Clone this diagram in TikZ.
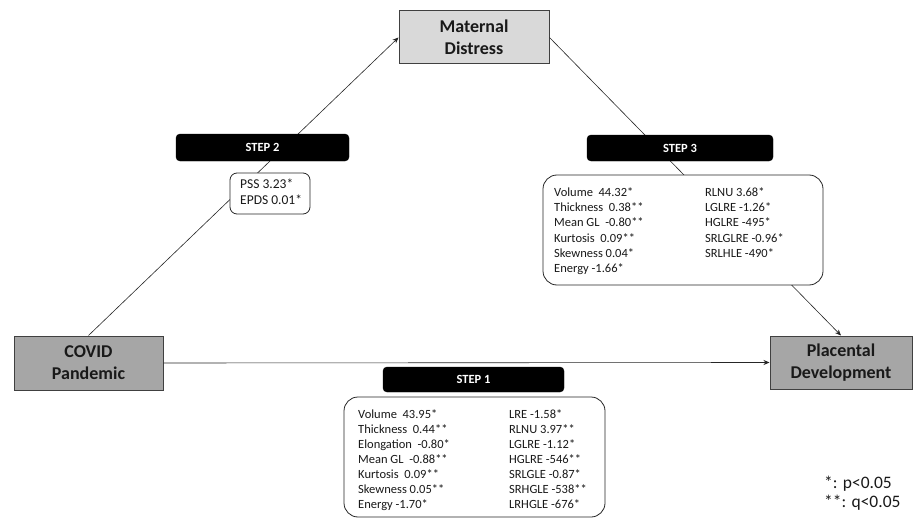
\documentclass[tikz,border=0pt]{standalone}
\usepackage{fontspec}
\setmainfont{Carlito}
\usetikzlibrary{arrows.meta}
\definecolor{lightbox}{HTML}{D9D9D9}
\definecolor{darkbox}{HTML}{A6A6A6}
\definecolor{edgegray}{HTML}{404040}
\tikzset{
  mainbox/.style={draw=edgegray, line width=1pt, rectangle, inner sep=0pt, align=center,
    font=\fontsize{18}{22}\selectfont\bfseries, text=black!90},
  stepbox/.style={fill=black, draw=black, rounded corners=4pt, inner sep=0pt,
    text=white, font=\fontsize{12.5}{14}\selectfont\bfseries},
  databox/.style={draw=black!85, line width=0.8pt, rounded corners=14pt, inner sep=0pt},
  datatext/.style={anchor=north west, inner sep=0pt, align=left,
    font=\fontsize{12.5}{15.2}\selectfont, text=black!90},
  link/.style={draw=black!85, line width=0.6pt},
  linkarrow/.style={link, -{Stealth[length=6pt,width=5pt]}}
}
\begin{document}
\begin{tikzpicture}[x=1pt,y=-1pt]
\useasboundingbox (0,0) rectangle (914,519);

% main boxes
\node[mainbox, fill=lightbox, minimum width=150pt, minimum height=53pt] (maternal) at (474,37.5) {Maternal\\Distress};
\node[mainbox, fill=darkbox, minimum width=149pt, minimum height=54pt] (covid) at (88.5,363) {COVID\\Pandemic};
\node[mainbox, fill=darkbox, minimum width=142pt, minimum height=53pt] (placental) at (841,362.5) {Placental\\Development};

% connectors
\draw[linkarrow] (covid.north) -- (maternal.west);
\draw[linkarrow] (maternal.east) -- (placental.north);
\draw[linkarrow] (covid.east) -- (placental.west);

% step labels
\node[stepbox, minimum width=173pt, minimum height=27pt] (step2) at (262.5,147.5) {STEP 2};
\node[stepbox, minimum width=186pt, minimum height=26pt] (step3) at (680,148) {STEP 3};
\node[stepbox, minimum width=181pt, minimum height=25pt] (step1) at (473.5,379.5) {STEP 1};

% step 2 data
\node[databox, fill=white, rounded corners=7pt, minimum width=80pt, minimum height=41pt] (box2) at (270,193.5) {};
\node[datatext, font=\fontsize{13.5}{16.5}\selectfont] (txt2) at (240,178.5) {PSS 3.23*\\EPDS 0.01*};

% step 3 data
\node[databox, fill=white, minimum width=280pt, minimum height=110pt] (box3) at (683,230) {};
\node[datatext] (txt3a) at (554,187.5) {Volume\ \ 44.32*\\Thickness\ \ 0.38**\\Mean GL\ \ -0.80**\\Kurtosis\ \ 0.09**\\Skewness 0.04*\\Energy -1.66*};
\node[datatext] (txt3b) at (705,187.5) {RLNU 3.68*\\LGLRE -1.26*\\HGLRE -495*\\SRLGLRE -0.96*\\SRLHLE -490*};

% step 1 data
\node[databox, fill=white, minimum width=261pt, minimum height=120pt] (box1) at (474.5,457) {};
\node[datatext, font=\fontsize{12.5}{15}\selectfont] (txt1a) at (358,409.5) {Volume\ \ 43.95*\\Thickness\ \ 0.44**\\Elongation\ \ -0.80*\\Mean GL\ \ -0.88**\\Kurtosis\ \ 0.09**\\Skewness 0.05**\\Energy -1.70*};
\node[datatext, font=\fontsize{12.5}{15}\selectfont] (txt1b) at (509,409.5) {LRE -1.58*\\RLNU 3.97**\\LGLRE -1.12*\\HGLRE -546**\\SRLGLE -0.87*\\SRHGLE -538**\\LRHGLE -676*};

% legend
\node[anchor=west, inner sep=0pt, align=left, font=\fontsize{17.5}{19}\selectfont, text=black!90] (legend) at (824,493) {*: p<0.05\\**: q<0.05};
\end{tikzpicture}
\end{document}
